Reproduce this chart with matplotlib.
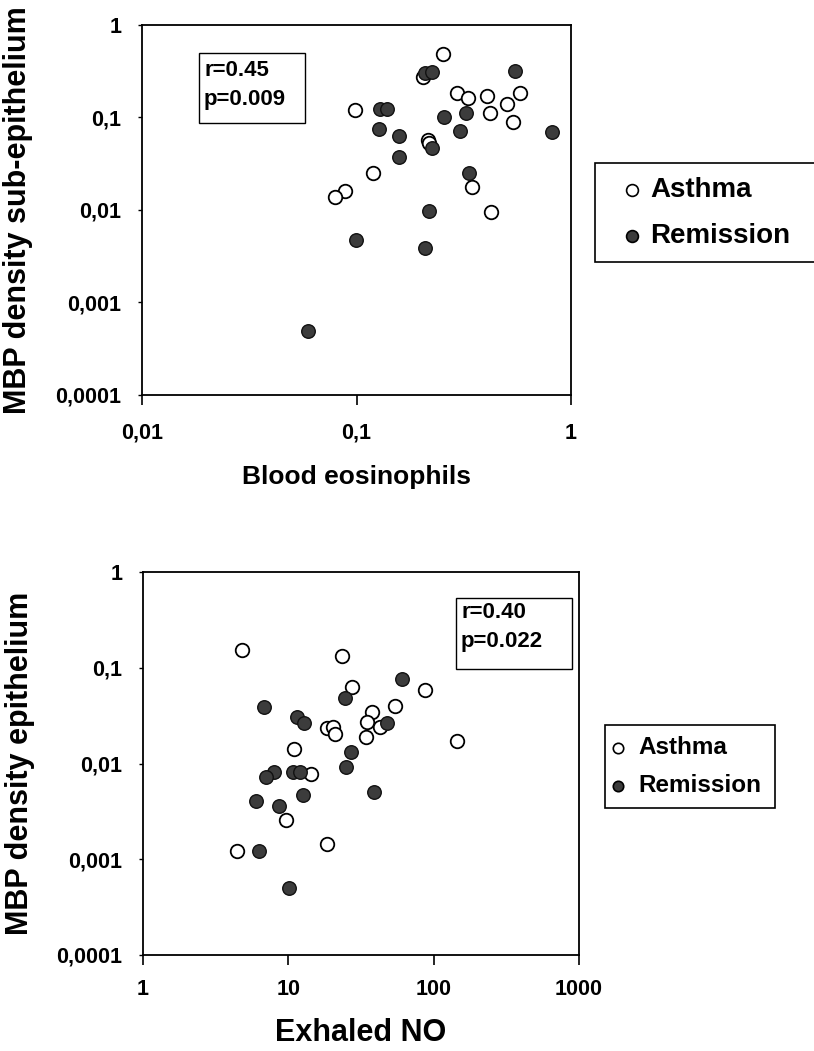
import numpy as np
import matplotlib.pyplot as plt
from matplotlib.patches import Rectangle
from matplotlib.lines import Line2D
from matplotlib.ticker import NullLocator

plt.rcParams['font.family'] = ['Liberation Sans', 'DejaVu Sans']
plt.rcParams['font.weight'] = 'bold'

# ---- data: top panel (blood eosinophils vs sub-epithelial MBP) ----
eos_asthma = [0.254, 0.205, 0.293, 0.332, 0.405, 0.578, 0.501, 0.419, 0.538,
              0.0985, 0.216, 0.218, 0.119, 0.0883, 0.0795, 0.344, 0.424]
sub_asthma = [0.482, 0.276, 0.183, 0.161, 0.172, 0.183, 0.140, 0.111, 0.090,
              0.121, 0.057, 0.0526, 0.0249, 0.016, 0.0139, 0.0179, 0.0096]
eos_remission = [0.208, 0.226, 0.548, 0.129, 0.138, 0.256, 0.324, 0.128, 0.304,
                 0.818, 0.158, 0.226, 0.158, 0.336, 0.218, 0.0995, 0.208, 0.0595]
sub_remission = [0.30, 0.313, 0.321, 0.123, 0.123, 0.100, 0.111, 0.0745, 0.072,
                 0.0702, 0.063, 0.0465, 0.0371, 0.0249, 0.0098, 0.00474, 0.00385, 0.000495]

# ---- data: bottom panel (exhaled NO vs epithelial MBP) ----
no_asthma = [4.82, 23.3, 27.6, 87.3, 54.2, 37.5, 34.6, 42.8, 18.4,
             20.4, 21.0, 34.3, 144, 11.0, 14.3, 9.6, 18.4, 4.41]
epi_asthma = [0.153, 0.133, 0.0625, 0.0586, 0.0402, 0.0348, 0.0269, 0.0242, 0.0233,
              0.0242, 0.0203, 0.019, 0.0173, 0.0142, 0.00777, 0.00257, 0.00143, 0.00123]
no_remission = [60.3, 24.5, 6.8, 11.5, 12.9, 48.0, 26.9, 24.8, 8.0,
                7.02, 10.8, 12.0, 12.7, 39.1, 6.0, 8.67, 6.32, 10.1]
epi_remission = [0.0763, 0.048, 0.0392, 0.0304, 0.0263, 0.0263, 0.0131, 0.00912, 0.0082,
                 0.00728, 0.0081, 0.0082, 0.00469, 0.00508, 0.00406, 0.0036, 0.00123, 0.000497]

# ---- ticks ----
y_ticks = [0.0001, 0.001, 0.01, 0.1, 1]
y_labels = ['0,0001', '0,001', '0,01', '0,1', '1']
x1_ticks = [0.01, 0.1, 1]
x1_labels = ['0,01', '0,1', '1']
x2_ticks = [1, 10, 100, 1000]
x2_labels = ['1', '10', '100', '1000']

stats_top = 'r=0.45\np=0.009'
stats_bottom = 'r=0.40\np=0.022'
group_names = ['Asthma', 'Remission']

W, H = 814, 1051
fig = plt.figure(figsize=(W / 100, H / 100), dpi=100)


def fpos(px, py):
    # pixel position (from top-left) -> figure fraction
    return px / W, 1 - py / H


open_style = dict(facecolor='white', edgecolor='black', linewidths=1.3, s=95, zorder=3)
fill_style = dict(facecolor='#3c3c3c', edgecolor='#111111', linewidths=1.0, s=95, zorder=3)


def style_axes(ax, xticks, xlabels, xlim, xpad):
    ax.set_xscale('log')
    ax.set_yscale('log')
    ax.set_xlim(*xlim)
    ax.set_ylim(1e-4, 1)
    ax.set_xticks(xticks, labels=xlabels)
    ax.set_yticks(y_ticks, labels=y_labels)
    ax.xaxis.set_minor_locator(NullLocator())
    ax.yaxis.set_minor_locator(NullLocator())
    ax.tick_params(axis='x', direction='out', length=7, width=1.2, pad=xpad, labelsize=15.5)
    ax.tick_params(axis='y', direction='out', length=3, width=1.0, pad=12, labelsize=15.5)
    for lab in ax.get_xticklabels() + ax.get_yticklabels():
        lab.set_fontweight('bold')
    for sp in ax.spines.values():
        sp.set_linewidth(1.3)


# ---- top panel ----
ax1 = fig.add_axes([142 / W, 1 - 395 / H, 429 / W, 370 / H])
ax1.scatter(eos_asthma, sub_asthma, **open_style)
ax1.scatter(eos_remission, sub_remission, **fill_style)
style_axes(ax1, x1_ticks, x1_labels, (0.01, 1), 13)
ax1.set_ylabel('MBP density sub-epithelium', fontsize=22, fontweight='bold')
ax1.yaxis.set_label_coords(-0.255, 0.5)
ax1.set_xlabel('Blood eosinophils', fontsize=19, fontweight='bold')
ax1.xaxis.set_label_coords(0.5, -0.19)

# ---- bottom panel ----
ax2 = fig.add_axes([143 / W, 1 - 955 / H, 436 / W, 383 / H])
ax2.scatter(no_asthma, epi_asthma, **open_style)
ax2.scatter(no_remission, epi_remission, **fill_style)
style_axes(ax2, x2_ticks, x2_labels, (1, 1000), 10)
ax2.set_ylabel('MBP density epithelium', fontsize=22, fontweight='bold')
ax2.yaxis.set_label_coords(-0.248, 0.5)
ax2.set_xlabel('Exhaled NO', fontsize=22, fontweight='bold')
ax2.xaxis.set_label_coords(0.5, -0.165)


def boxed_text(x0, y0, x1, y1, tx, lines, ty, size):
    l, b = fpos(x0, y1)
    r, t = fpos(x1, y0)
    fig.add_artist(Rectangle((l, b), r - l, t - b, transform=fig.transFigure,
                             facecolor='white', edgecolor='black', linewidth=1.0, zorder=5))
    for line, yy in zip(lines, ty):
        fig.text(*fpos(tx, yy), line, fontsize=size, fontweight='bold',
                 ha='left', va='center', zorder=6)


boxed_text(199, 53, 305, 123, 204, stats_top.split('\n'), [70, 99], 16)
boxed_text(456, 598, 572, 669, 461, stats_bottom.split('\n'), [613, 641], 16)


def legend_box(x0, y0, x1, y1, mx, tx, rows, size, msize):
    l, b = fpos(x0, y1)
    r, t = fpos(x1, y0)
    fig.add_artist(Rectangle((l, b), r - l, t - b, transform=fig.transFigure,
                             facecolor='white', edgecolor='black', linewidth=1.2, zorder=5))
    faces = ['white', '#3c3c3c']
    for name, face, yy in zip(group_names, faces, rows):
        fig.add_artist(Line2D([mx / W], [1 - yy / H], transform=fig.transFigure,
                              marker='o', markersize=msize, markerfacecolor=face,
                              markeredgecolor='black', markeredgewidth=1.2,
                              linestyle='none', zorder=6))
        fig.text(*fpos(tx, yy), name, fontsize=size, fontweight='bold',
                 ha='left', va='center', zorder=6)


legend_box(595, 163, 830, 262, 632, 650, [190, 236], 20, 8.5)
legend_box(605, 725, 775, 808, 618, 638, [748, 786], 17.5, 7.5)

fig.savefig('out.png', dpi=100, facecolor='white')
